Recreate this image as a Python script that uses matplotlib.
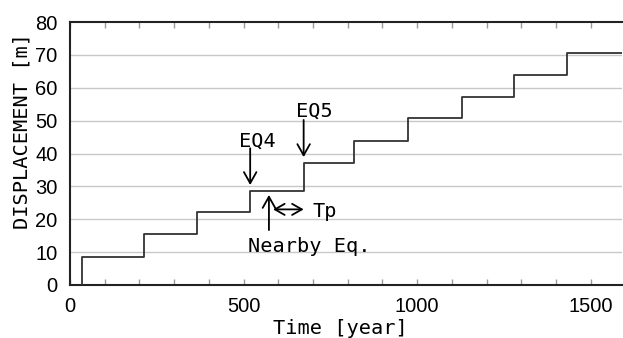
import numpy as np
import matplotlib
matplotlib.use('Agg')
import matplotlib.pyplot as plt
from matplotlib.ticker import MultipleLocator

# step record: event times [year] and cumulative displacement [m]
event_year = [34, 213, 367, 519, 673, 819, 973, 1128, 1279, 1433]
displacement = [8.6, 15.4, 22.3, 28.7, 37.2, 43.8, 50.7, 57.2, 63.9, 70.7]
x_end = 1590

yticks = [0, 10, 20, 30, 40, 50, 60, 70, 80]
xticks = [0, 500, 1000, 1500]

mono = 'DejaVu Sans Mono'
fs = 14.6

fig = plt.figure(figsize=(6.23, 3.38), dpi=100)
ax = fig.add_axes([70 / 623, 53 / 338, 552 / 623, 263 / 338])

xs = [event_year[0]] + event_year + [x_end]
ys = [0] + displacement + [displacement[-1]]
ax.step(xs, ys, where='post', color='#333333', lw=1.3, zorder=3)

ax.set_xlim(0, x_end)
ax.set_ylim(0, 80)
ax.set_xticks(xticks)
ax.set_yticks(yticks)
ax.xaxis.set_minor_locator(MultipleLocator(100))
for y in yticks[1:-1]:
  ax.axhline(y, color='#c8c8c8', lw=1.0, zorder=1)

ax.tick_params(axis='x', which='both', direction='in', length=4, width=1,
               color='#999999', top=True, bottom=True, pad=9)
ax.tick_params(axis='y', length=0, pad=9)
for lab in ax.get_xticklabels() + ax.get_yticklabels():
  lab.set_family('Liberation Sans')
  lab.set_fontsize(14.5)

for s in ['left', 'bottom', 'top']:
  ax.spines[s].set_color('#222222')
  ax.spines[s].set_linewidth(1.5)
ax.spines['right'].set_visible(False)

ax.set_ylabel('DISPLACEMENT [m]', family=mono, fontsize=fs, va='center')
ax.yaxis.set_label_coords(-0.087, 0.585)
ax.set_xlabel('Time [year]', family=mono, fontsize=fs, va='baseline')
ax.xaxis.set_label_coords(0.489, -0.186)

arrow = dict(arrowstyle='->,head_length=0.8,head_width=0.45', lw=1.3,
             color='black', shrinkA=0, shrinkB=0, mutation_scale=10)
darrow = dict(arrowstyle='<->,head_length=0.7,head_width=0.4', lw=1.3,
              color='black', shrinkA=0, shrinkB=0, mutation_scale=10)

# EQ4
ax.annotate('', xy=(519, 30.4), xytext=(519, 41.6), arrowprops=arrow)
ax.text(540, 42.2, 'EQ4', family=mono, fontsize=fs, ha='center', va='baseline')
# EQ5
ax.annotate('', xy=(673, 38.9), xytext=(673, 50.2), arrowprops=arrow)
ax.text(704, 51.2, 'EQ5', family=mono, fontsize=fs, ha='center', va='baseline')
# Nearby Eq.
ax.annotate('', xy=(573, 27.4), xytext=(573, 16.7), arrowprops=arrow)
ax.text(690, 10.1, 'Nearby Eq.', family=mono, fontsize=fs, ha='center', va='baseline')
# Tp
ax.annotate('', xy=(673, 23), xytext=(585, 23), arrowprops=darrow)
ax.text(699, 20.8, 'Tp', family=mono, fontsize=fs, ha='left', va='baseline')

fig.savefig('out.png', dpi=100)
